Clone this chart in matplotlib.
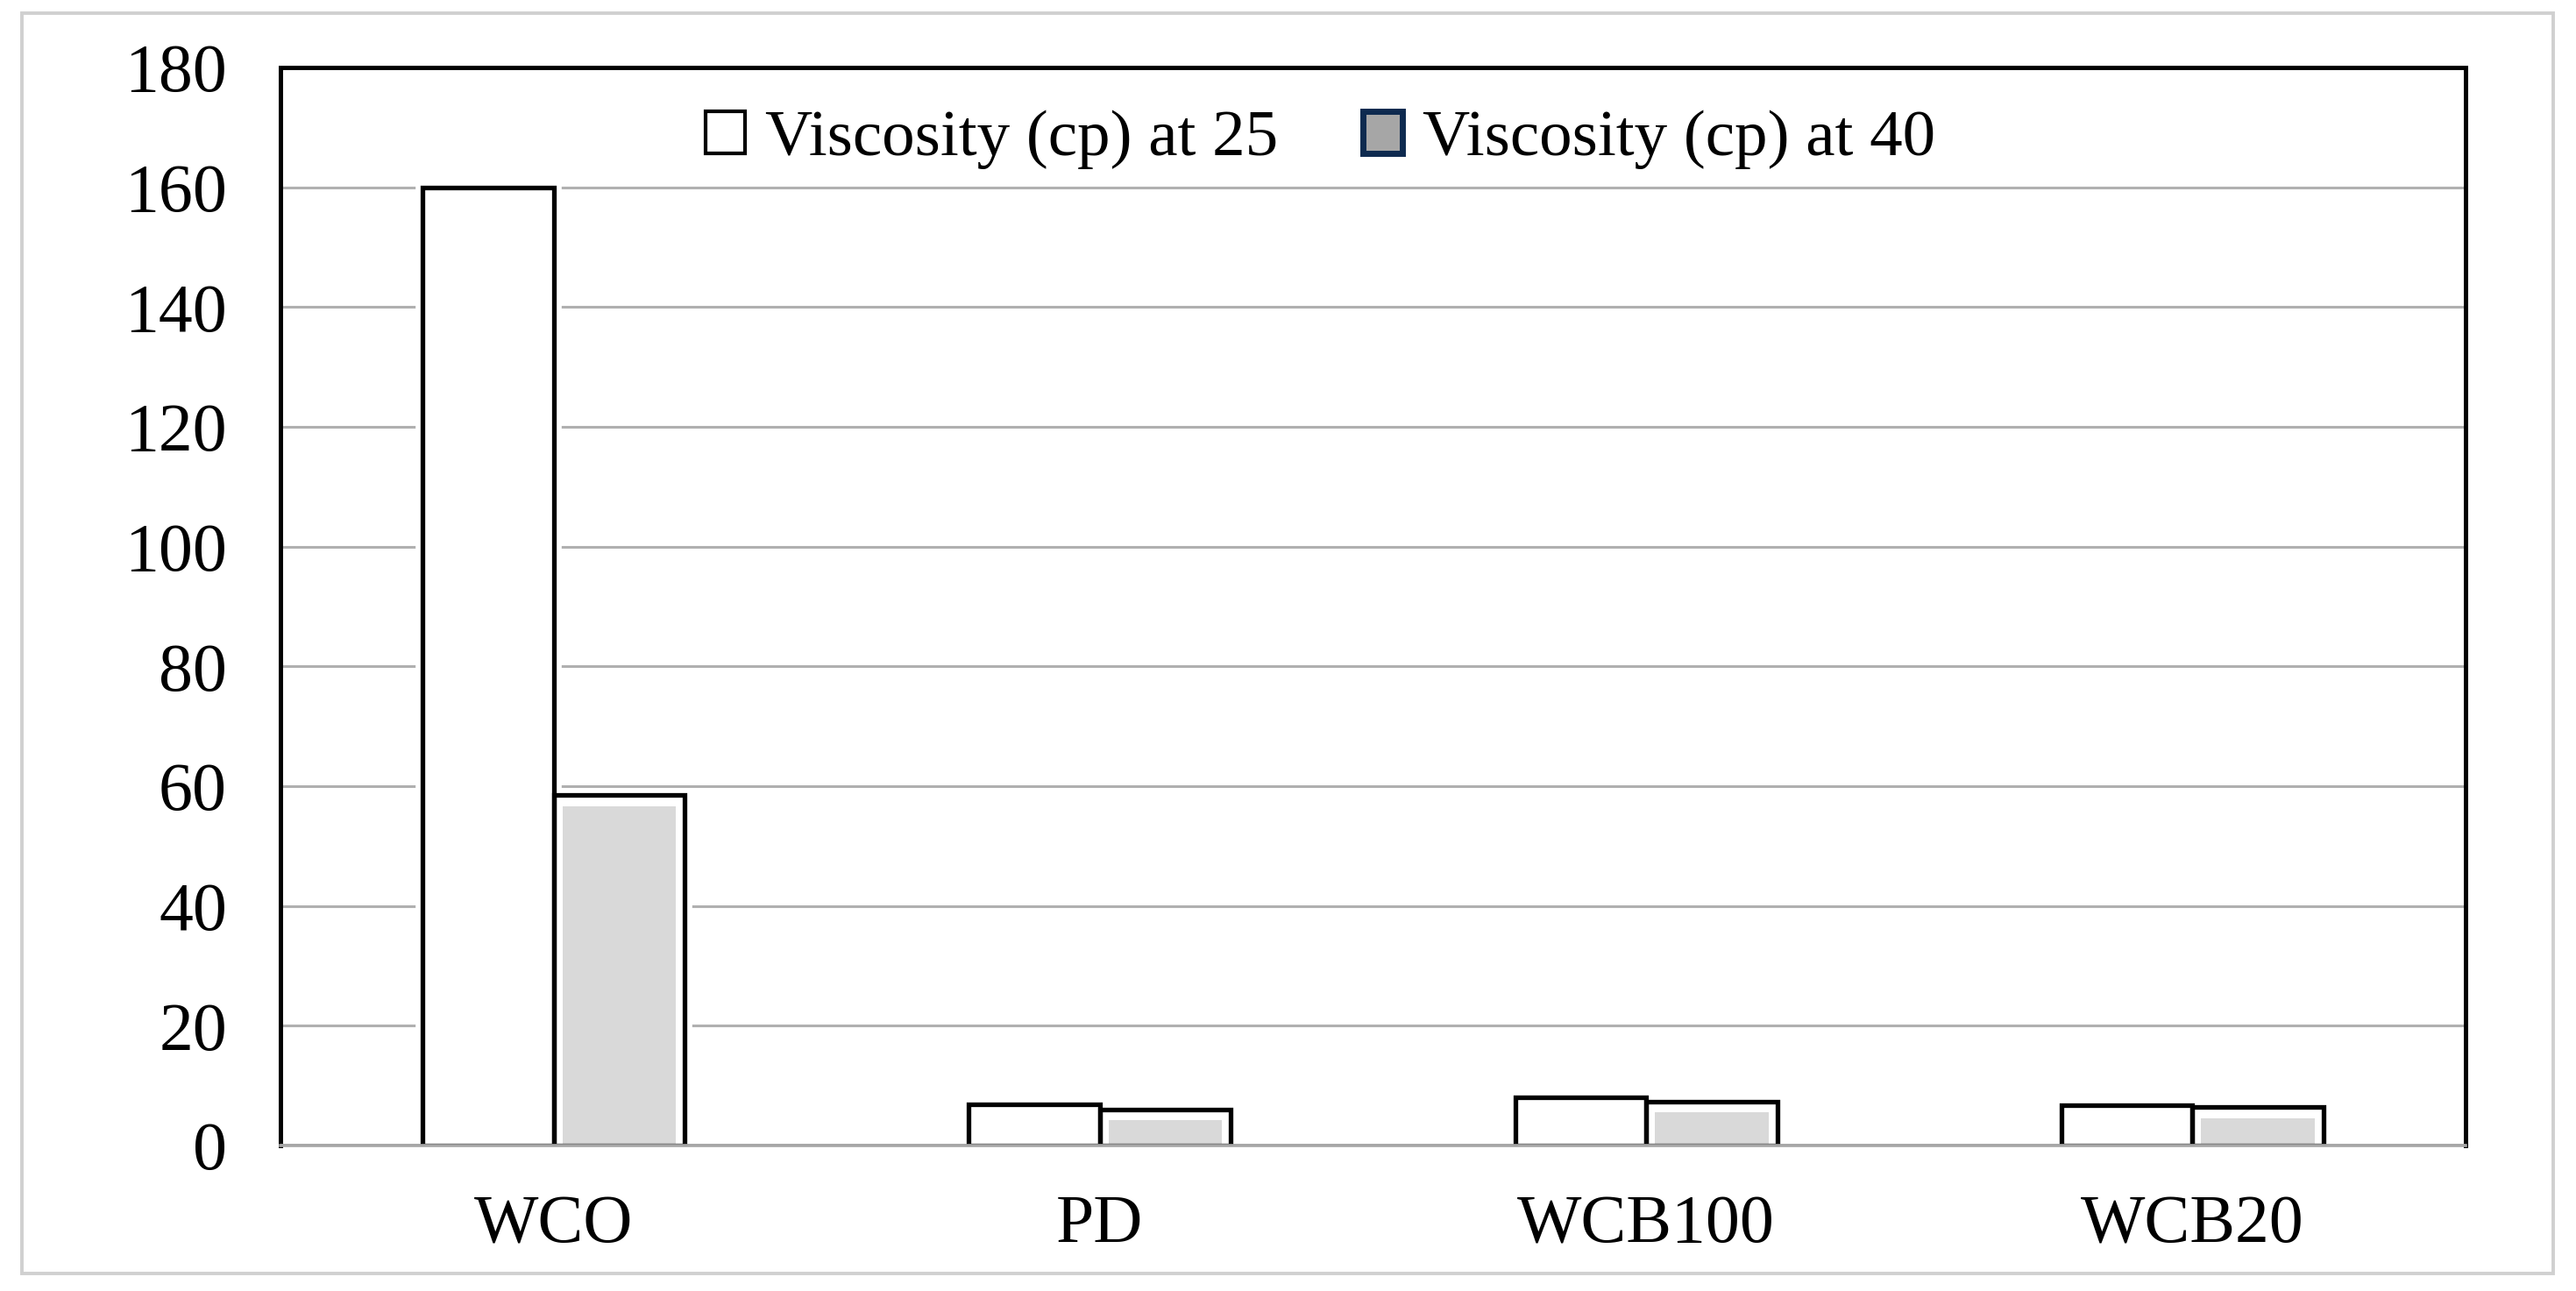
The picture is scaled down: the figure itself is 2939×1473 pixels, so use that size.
import numpy as np
import matplotlib
matplotlib.use('Agg')
from matplotlib import pyplot as plt
from matplotlib.patches import Rectangle, Patch

# data
categories = ['WCO', 'PD', 'WCB100', 'WCB20']
visc_25 = [160.0, 6.9, 8.1, 6.8]
visc_40 = [58.5, 6.0, 7.3, 6.4]
labels = ['Viscosity (cp) at 25', 'Viscosity (cp) at 40']
y_ticks = [0, 20, 40, 60, 80, 100, 120, 140, 160, 180]

plt.rcParams['font.family'] = ['Liberation Serif', 'DejaVu Serif']

fig = plt.figure(figsize=(14.695, 7.365), dpi=200)
ax = fig.add_axes([0.1089, 0.1127, 0.8482, 0.835])

# light grey frame around the whole chart
fig.patches.append(Rectangle((25 / 2939, 1 - 1453 / 1473), (2913 - 25) / 2939, (1453 - 15) / 1473,
                             transform=fig.transFigure, fill=False, edgecolor='#d0d0d0', linewidth=1.4))

x = np.arange(len(categories))
w = 0.24
dx = 0.016   # inset of grey fill
dy = 1.8

# white halo so gridlines stop short of bars
ax.bar(x - w / 2, visc_25, w, color='white', edgecolor='white', linewidth=6, zorder=1)
ax.bar(x + w / 2, visc_40, w, color='white', edgecolor='white', linewidth=6, zorder=1)

# grey inset fill of second series
ax.bar(x + w / 2, np.array(visc_40) - dy, w - 2 * dx, color='#d9d9d9', linewidth=0, zorder=2)

# black outlines
ax.bar(x - w / 2, visc_25, w, fill=False, edgecolor='black', linewidth=1.9, zorder=3)
ax.bar(x + w / 2, visc_40, w, fill=False, edgecolor='black', linewidth=1.9, zorder=3)

ax.axhline(0, color='#a6a6a6', linewidth=1.3, zorder=4)

ax.set_xlim(-0.5, 3.5)
ax.set_ylim(0, 180)
ax.set_yticks(y_ticks)
ax.set_xticks(x)
ax.set_xticklabels(categories)
ax.yaxis.grid(True, color='#b0b0b0', linewidth=1.1, zorder=0)
ax.set_axisbelow(True)
ax.tick_params(axis='both', length=0, labelsize=28, colors='black')
ax.tick_params(axis='y', pad=22)
ax.tick_params(axis='x', pad=20)

for s in ['left', 'top', 'right']:
    ax.spines[s].set_color('black')
    ax.spines[s].set_linewidth(1.8)
ax.spines['bottom'].set_color('#a6a6a6')
ax.spines['bottom'].set_linewidth(1.3)

handles = [Patch(facecolor='white', edgecolor='black', linewidth=1.5),
           Patch(facecolor='#a6a6a6', edgecolor='#0e2a4f', linewidth=2.5)]
ax.legend(handles, labels, loc='center', bbox_to_anchor=(0.476, 0.933), ncol=2, frameon=False,
          fontsize=27, handlelength=0.6, handleheight=0.6, handletextpad=0.3, columnspacing=1.3)

plt.savefig('out.png', dpi=200)
